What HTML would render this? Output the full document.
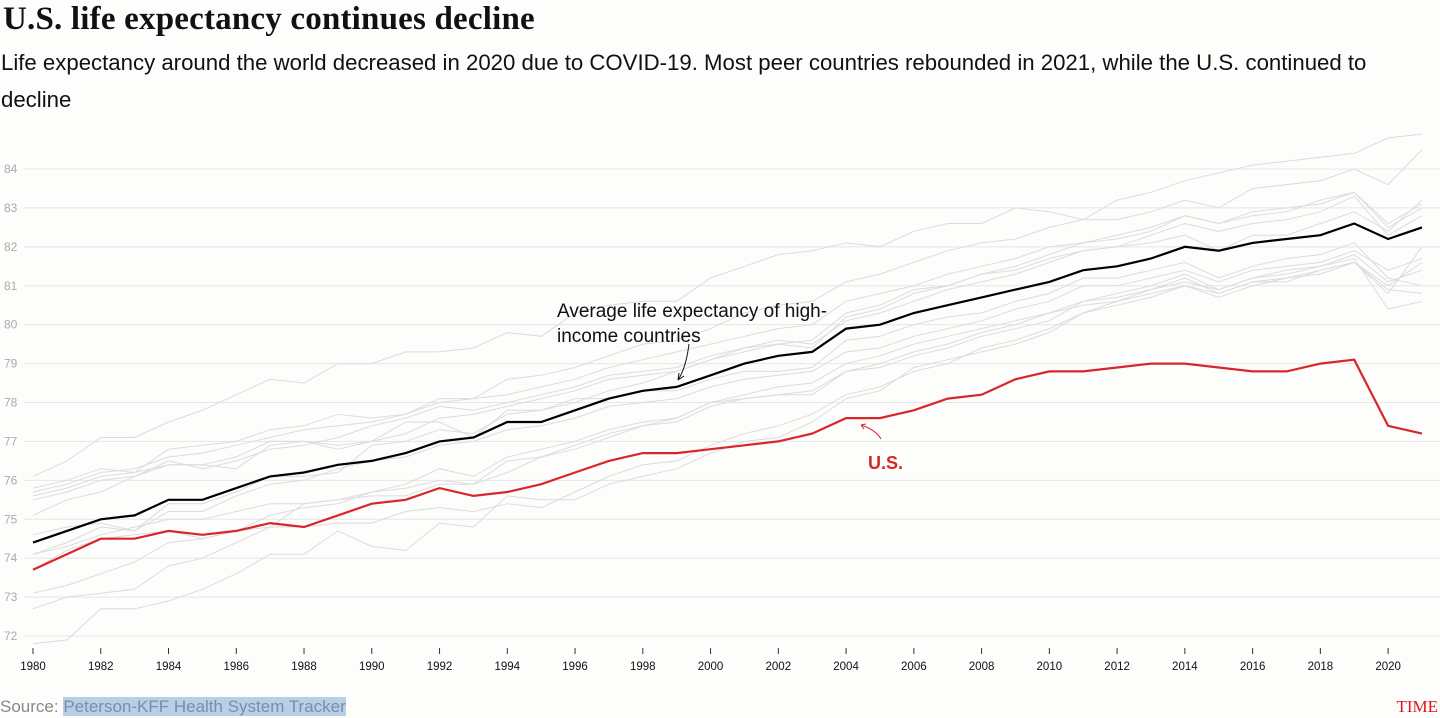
<!DOCTYPE html>
<html><head><meta charset="utf-8"><style>
html,body{margin:0;padding:0;background:#fdfdfb;width:1440px;height:718px;overflow:hidden;font-family:"Liberation Sans",sans-serif}
#title{position:absolute;left:3px;top:1px;font-family:"Liberation Serif",serif;font-weight:bold;font-size:33px;color:#111;margin:0;letter-spacing:0.2px}
#sub{position:absolute;left:1px;top:44px;width:1400px;font-size:22.2px;line-height:37px;color:#111}
#source{position:absolute;left:0;top:697px;font-size:17px;color:#888}
#source span{background:#b9cfe8;color:#7a8ea6}
#time{position:absolute;right:2px;top:697px;font-family:"Liberation Serif",serif;color:#e0141c;font-size:17px}
svg{position:absolute;left:0;top:0}
</style></head><body>
<h1 id="title">U.S. life expectancy continues decline</h1>
<div id="sub">Life expectancy around the world decreased in 2020 due to COVID-19. Most peer countries rebounded in 2021, while the U.S. continued to decline</div>
<svg id="chart" width="1440" height="718"></svg>
<div id="source">Source: <span>Peterson-KFF Health System Tracker</span></div>
<div id="time">TIME</div>
<script>
const years = Array.from({length:42},(_,i)=>1980+i);
const yTicks = [72,73,74,75,76,77,78,79,80,81,82,83,84];
const xTicks = [1980,1982,1984,1986,1988,1990,1992,1994,1996,1998,2000,2002,2004,2006,2008,2010,2012,2014,2016,2018,2020];
const average = [74.4,74.7,75.0,75.1,75.5,75.5,75.8,76.1,76.2,76.4,76.5,76.7,77.0,77.1,77.5,77.5,77.8,78.1,78.3,78.4,78.7,79.0,79.2,79.3,79.9,80.0,80.3,80.5,80.7,80.9,81.1,81.4,81.5,81.7,82.0,81.9,82.1,82.2,82.3,82.6,82.2,82.5];
const us = [73.7,74.1,74.5,74.5,74.7,74.6,74.7,74.9,74.8,75.1,75.4,75.5,75.8,75.6,75.7,75.9,76.2,76.5,76.7,76.7,76.8,76.9,77.0,77.2,77.6,77.6,77.8,78.1,78.2,78.6,78.8,78.8,78.9,79.0,79.0,78.9,78.8,78.8,79.0,79.1,77.4,77.2];
const peer1 = [76.1,76.5,77.1,77.1,77.5,77.8,78.2,78.6,78.5,79.0,79.0,79.3,79.3,79.4,79.8,79.7,80.3,80.5,80.6,80.6,81.2,81.5,81.8,81.9,82.1,82.0,82.4,82.6,82.6,83.0,82.9,82.7,83.2,83.4,83.7,83.9,84.1,84.2,84.3,84.4,84.8,84.9];
const peer2 = [75.7,75.9,76.2,76.3,76.6,76.7,76.9,77.1,77.3,77.4,77.5,77.7,78.0,78.1,78.6,78.7,78.9,79.2,79.5,79.6,79.9,80.3,80.5,80.6,81.1,81.3,81.6,81.9,82.1,82.2,82.5,82.7,82.7,82.9,83.2,83.0,83.5,83.6,83.7,84.0,83.6,84.5];
const peer3 = [75.8,76.0,76.3,76.2,76.8,76.9,77.0,77.3,77.4,77.7,77.6,77.7,78.1,78.1,78.2,78.4,78.6,78.9,79.1,79.3,79.5,79.7,79.9,80.0,80.6,80.8,81.0,81.3,81.5,81.7,82.0,82.1,82.3,82.5,82.8,82.6,82.8,82.9,83.2,83.4,82.5,83.0];
const peer4 = [75.6,75.8,76.1,76.2,76.4,76.4,76.6,77.0,77.0,76.9,77.0,77.2,77.6,77.7,77.9,78.1,78.3,78.6,78.7,78.8,79.1,79.3,79.5,79.4,80.2,80.4,80.8,81.0,81.3,81.5,81.8,82.1,82.2,82.4,82.8,82.6,82.9,83.0,83.1,83.4,82.6,83.1];
const peer5 = [75.5,75.7,76.0,76.1,76.5,76.3,76.5,76.8,76.9,77.1,77.4,77.6,77.9,77.8,78.0,78.2,78.4,78.7,78.8,78.9,79.2,79.4,79.6,79.5,80.1,80.3,80.6,80.9,81.1,81.3,81.6,81.9,82.0,82.3,82.6,82.4,82.6,82.7,82.9,83.3,82.3,82.8];
const peer6 = [75.1,75.5,75.7,76.1,76.4,76.4,76.3,76.9,77.0,76.8,77.0,77.5,77.5,77.1,77.8,77.8,78.0,78.3,78.5,78.8,79.1,79.4,79.5,79.6,80.3,80.5,80.9,81.0,81.3,81.4,81.7,81.9,82.0,82.1,82.3,81.9,82.3,82.3,82.6,82.9,82.4,83.2];
const peer7 = [74.6,74.8,74.9,74.7,75.4,75.4,75.7,76.1,76.1,76.2,76.9,77.0,77.3,77.2,77.7,77.8,78.1,78.1,78.3,78.3,78.6,78.8,78.8,78.9,79.6,79.7,80.0,80.2,80.3,80.6,80.8,81.2,81.2,81.4,81.6,81.2,81.5,81.7,81.8,82.1,81.2,81.0];
const peer8 = [74.1,74.4,74.8,74.7,75.2,75.2,75.6,75.9,76.0,76.3,76.5,76.6,76.9,77.0,77.3,77.4,77.6,77.9,78.0,78.1,78.4,78.6,78.7,78.8,79.3,79.4,79.7,79.9,80.1,80.4,80.6,81.0,81.0,81.2,81.4,81.1,81.4,81.5,81.6,81.9,81.4,81.7];
const peer9 = [73.7,74.2,74.5,74.6,74.7,74.5,74.7,75.1,75.3,75.4,75.7,75.9,76.3,76.1,76.6,76.8,77.0,77.3,77.5,77.6,78.0,78.2,78.4,78.5,79.0,79.2,79.5,79.7,79.9,80.1,80.3,80.6,80.8,81.0,81.3,80.9,81.2,81.3,81.5,81.8,81.1,81.4];
const peer10 = [74.1,74.3,74.6,74.8,75.0,75.0,75.2,75.4,75.4,75.5,75.6,75.6,75.9,75.9,76.5,76.6,76.8,77.1,77.4,77.5,77.9,78.1,78.2,78.3,78.8,79.0,79.3,79.5,79.8,80.0,80.3,80.5,80.6,80.9,81.2,80.8,81.1,81.1,81.4,81.6,81.0,81.6];
const peer11 = [73.1,73.3,73.6,73.9,74.4,74.5,74.7,74.8,75.4,75.5,75.7,75.8,76.0,75.9,76.2,76.6,76.9,77.2,77.4,77.6,78.0,78.1,78.2,78.2,78.8,78.9,79.2,79.4,79.7,79.9,80.1,80.6,80.7,80.9,81.1,80.9,81.2,81.4,81.5,81.7,80.4,80.6];
const peer12 = [72.7,73.0,73.1,73.2,73.8,74.0,74.4,74.8,74.8,74.9,74.9,75.2,75.3,75.2,75.4,75.3,75.7,76.1,76.4,76.5,76.9,77.2,77.4,77.7,78.2,78.4,78.8,79.0,79.4,79.6,79.9,80.3,80.5,80.7,81.0,80.7,81.0,81.2,81.3,81.6,80.9,80.8];
const peer13 = [71.8,71.9,72.7,72.7,72.9,73.2,73.6,74.1,74.1,74.7,74.3,74.2,74.9,74.8,75.6,75.5,75.5,75.9,76.1,76.3,76.7,77.0,77.1,77.5,78.1,78.3,78.9,79.1,79.3,79.5,79.8,80.3,80.6,80.8,81.0,80.8,81.1,81.2,81.4,81.6,80.8,82.0];
const peers = [peer1,peer2,peer3,peer4,peer5,peer6,peer7,peer8,peer9,peer10,peer11,peer12,peer13];

const NS='http://www.w3.org/2000/svg';
const svg=document.getElementById('chart');
const X0=33, X1=1422, Ytop=169, Ybot=636;
const x=yr=>X0+(yr-1980)*(X1-X0)/(2021-1980);
const y=v=>Ybot-(v-72)*(Ybot-Ytop)/12;
function mk(t,a){const e=document.createElementNS(NS,t);for(const k in a)e.setAttribute(k,a[k]);svg.appendChild(e);return e;}

yTicks.forEach(t=>{
  const l=mk('line',{x1:24,x2:1440,y1:y(t),y2:y(t),stroke:'#e6e6e6','stroke-width':1});
  
  
  const tx=mk('text',{x:4,y:y(t)+4,'font-size':12,fill:'#aaa','font-family':'Liberation Sans, sans-serif'});
  tx.textContent=t;
  
  
});
xTicks.forEach(t=>{
  const l=mk('line',{x1:x(t),x2:x(t),y1:648,y2:654,stroke:'#333','stroke-width':1});
  
  
  const tx=mk('text',{x:x(t),y:670,'font-size':11.5,fill:'#111','text-anchor':'middle','font-family':'Liberation Sans, sans-serif'});
  tx.textContent=t;
  
  
});
function path(vals){return vals.map((v,i)=>(i?'L':'M')+x(years[i]).toFixed(1)+','+y(v).toFixed(1)).join('');}
peers.forEach(p=>{
  const e=mk('path',{d:path(p),fill:'none',stroke:'#dcdcdc','stroke-width':1});
  
  
});
const avg=mk('path',{d:path(average),fill:'none',stroke:'#000','stroke-width':2.2});


const usl=mk('path',{d:path(us),fill:'none',stroke:'#d9262a','stroke-width':2.2});



const a1=mk('text',{x:557,y:317,'font-size':19,fill:'#111','font-family':'Liberation Sans, sans-serif'});
a1.textContent='Average life expectancy of high-';


const a2=mk('text',{x:557,y:342,'font-size':19,fill:'#111','font-family':'Liberation Sans, sans-serif'});
a2.textContent='income countries';


const ar1=mk('path',{d:'M689,344 Q686,368 678,380 M678,380 L679,373 M678,380 L684,376',fill:'none',stroke:'#111','stroke-width':1});


const u=mk('text',{x:868,y:469,'font-size':18,'font-weight':'bold',fill:'#d9262a','font-family':'Liberation Sans, sans-serif'});
u.textContent='U.S.';


const ar2=mk('path',{d:'M881,439 Q876,430 861,425 M861,425 L866,424 M861,425 L864,429',fill:'none',stroke:'#d9262a','stroke-width':1});


</script>
</body></html>
